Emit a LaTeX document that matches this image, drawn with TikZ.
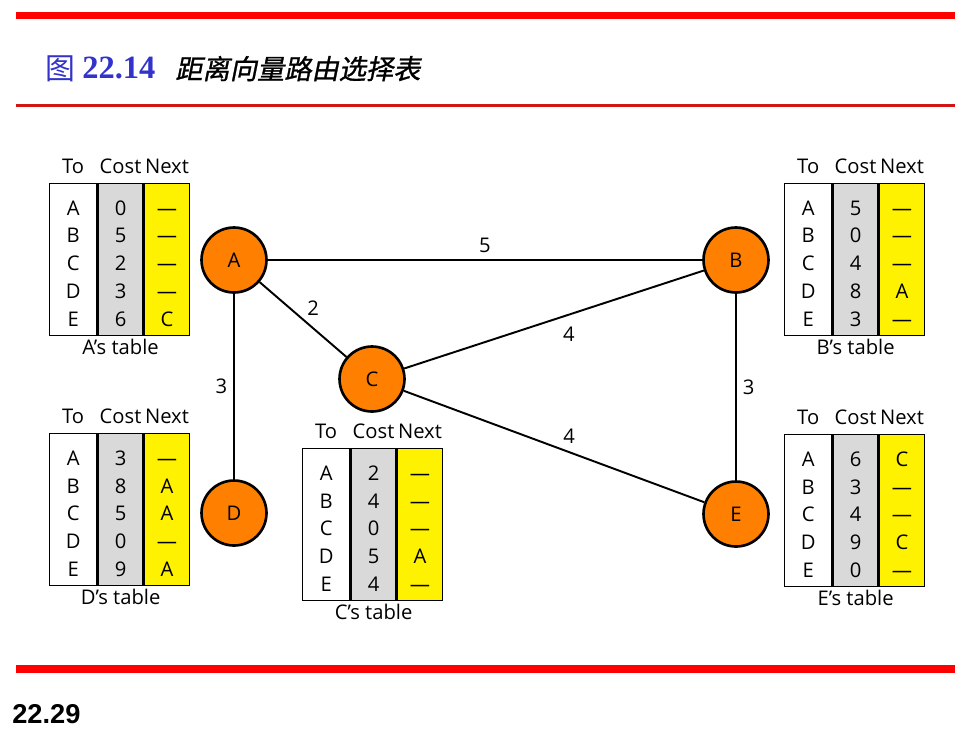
\documentclass[tikz,border=0pt]{standalone}
\usepackage{fontspec}
\setmainfont{Open Sans}
\newfontfamily\cjkfont{Noto Sans CJK SC}
\newfontfamily\cjkslant[FakeSlant=0.2, FakeBold=1]{Noto Sans CJK SC}
\newfontfamily\timesfont{Liberation Serif}
\newfontfamily\arialfont{Liberation Sans}
\usetikzlibrary{positioning}
\definecolor{nodeorange}{RGB}{255,128,0}
\definecolor{colgray}{RGB}{217,217,217}
\definecolor{titleblue}{RGB}{51,51,204}
\definecolor{rulered}{RGB}{210,20,20}
\tikzset{
    router/.style = {circle, line width=1.5pt, draw=black, fill=nodeorange, minimum size=1.3cm, inner sep=0pt, font=\fontsize{11.5}{13}\selectfont},
    link/.style = {line width=1.1pt},
    colw/.style = {rectangle, draw=black, line width=0.8pt, fill=white, minimum width=0.94cm, minimum height=3.04cm, inner sep=0pt, anchor=north west},
    colg/.style = {colw, fill=colgray, minimum width=0.9cm},
    coly/.style = {colw, fill=yellow, minimum width=0.9cm},
    cellt/.style = {inner sep=0pt, anchor=base, font=\fontsize{11.5}{13}\selectfont},
    weight/.style = {font=\fontsize{11.5}{13}\selectfont},
    redbar/.style = {red, line width=4.3pt},
    redrule/.style = {rulered, line width=1.3pt}
}
% routing table: name, top left corner, costs, next hops
\newcommand{\rtable}[4]{%
  \node[colw] (#1-to) at #2 {};
  \node[colg] (#1-cost) at (#1-to.north east) {};
  \node[coly] (#1-next) at (#1-cost.north east) {};
  \node[cellt] (#1-hto) at ([yshift=0.19cm]#1-to.north) {To};
  \node[cellt] (#1-hcost) at ([yshift=0.19cm]#1-cost.north) {Cost};
  \node[cellt] (#1-hnext) at ([yshift=0.19cm]#1-next.north) {Next};
  \foreach \t [count=\i] in {A,B,C,D,E}
    \node[cellt] (#1-to\i) at ([yshift={-0.08cm-0.56cm*\i}]#1-to.north) {\t};
  \foreach \c [count=\i] in {#3}
    \node[cellt] (#1-cost\i) at ([yshift={-0.08cm-0.56cm*\i}]#1-cost.north) {\c};
  \foreach \n [count=\i] in {#4}
    \node[cellt] (#1-next\i) at ([yshift={-0.08cm-0.56cm*\i}]#1-next.north) {\n};
  \node[cellt] (#1-label) at ([yshift=-0.37cm]#1-cost.south) {#1’s table};
}

\begin{document}
\begin{tikzpicture}[x=0.02cm, y=-0.02cm]
\useasboundingbox (0,0) rectangle (980,735);
%
\draw[redbar] (16,15.5) -- (955,15.5);
\draw[redrule] (16,105.5) -- (955,105.5);
\draw[redbar] (16,669) -- (955,669);
%
\node[anchor=base west, inner sep=0pt, text=titleblue, font=\cjkfont\fontsize{17}{20}\selectfont] (fig) at (45,79) {图};
\node[anchor=base west, inner sep=0pt, text=titleblue, font=\timesfont\bfseries\fontsize{18.5}{22}\selectfont] (fignum) at (82,78) {22.14};
\node[anchor=base west, inner sep=0pt, font=\cjkslant\fontsize{15.5}{18}\selectfont] (caption) at (175,79) {距离向量路由选择表};
\node[anchor=base west, inner sep=0pt, font=\arialfont\bfseries\fontsize{15.5}{18}\selectfont] (page) at (12,723) {22.29};
%
\node[router] at (234, 260) (A) {A};
\node[router] at (736, 260) (B) {B};
\node[router] at (372, 379) (C) {C};
\node[router] at (234, 513) (D) {D};
\node[router] at (736, 514) (E) {E};
%
\draw[link] (A) -- node[weight, above] (wAB) {5} (B);
\draw[link] (A) -- node[weight, above right, inner sep=2pt] (wAC) {2} (C);
\draw[link] (A) -- node[weight, left] (wAD) {3} (D);
\draw[link] (C) -- node[weight, pos=0.55, below=3pt] (wCB) {4} (B);
\draw[link] (C) -- node[weight, pos=0.55, above=1pt] (wCE) {4} (E);
\draw[link] (B) -- node[weight, right] (wBE) {3} (E);
%
\rtable{A}{(49,183)}{0,5,2,3,6}{—,—,—,—,C}
\rtable{B}{(784,183)}{5,0,4,8,3}{—,—,—,A,—}
\rtable{D}{(49,433)}{3,8,5,0,9}{—,A,A,—,A}
\rtable{E}{(784,434)}{6,3,4,9,0}{C,—,—,C,—}
\rtable{C}{(302,448)}{2,4,0,5,4}{—,—,—,A,—}

\end{tikzpicture}
\end{document}
